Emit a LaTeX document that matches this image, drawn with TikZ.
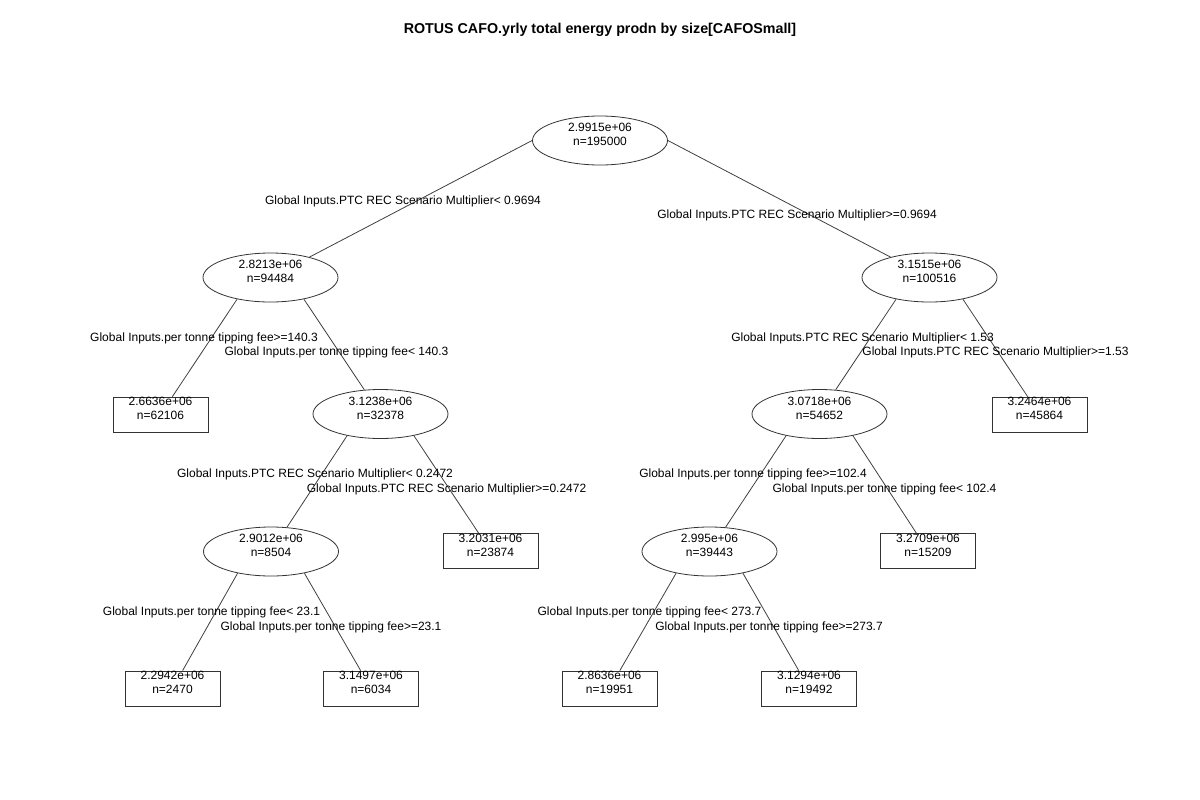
\documentclass[tikz,border=0pt]{standalone}
\usepackage{fontspec}
\setmainfont{Liberation Sans}
\usetikzlibrary{shapes.geometric}
\tikzset{
  inode/.style={ellipse, draw=black!80, line width=0.6pt, inner sep=0pt, minimum width=101.25pt, minimum height=36.75pt},
  leaf/.style={rectangle, draw=black!80, line width=0.6pt, inner sep=0pt, minimum width=71.25pt, minimum height=26.25pt},
  txt/.style={align=center, font=\fontsize{9pt}{10.5pt}\selectfont, inner sep=0pt, yshift=4.5pt},
  cond/.style={font=\fontsize{9pt}{10.5pt}\selectfont, inner sep=0pt},
  edge/.style={draw=black!75, line width=0.6pt}
}
\begin{document}
\begin{tikzpicture}[x=0.75pt, y=-0.75pt]
\useasboundingbox[fill=white] (0,0) rectangle (1200,800);
\node[font=\bfseries\fontsize{10.7pt}{12pt}\selectfont] (title) at (600,30) {ROTUS CAFO.yrly total energy prodn by size[CAFOSmall]};

% shapes
\node[inode] (root) at (600,140.5) {};
\node[inode] (n1) at (270.5,277.5) {};
\node[inode] (n2) at (929.5,277.5) {};
\node[leaf]  (l1) at (160.5,414.5) {};
\node[inode] (n3) at (380.5,414) {};
\node[inode] (n4) at (819.5,414) {};
\node[leaf]  (l2) at (1039.5,414.5) {};
\node[inode] (n5) at (271,551.5) {};
\node[leaf]  (l3) at (490.5,551) {};
\node[inode] (n6) at (709.5,551.5) {};
\node[leaf]  (l4) at (928,551) {};
\node[leaf]  (l5) at (172.5,688.5) {};
\node[leaf]  (l6) at (371,688.5) {};
\node[leaf]  (l7) at (609.5,688.5) {};
\node[leaf]  (l8) at (809,688.5) {};

% texts
\node[txt] (troot) at (root) {2.9915e+06\\n=195000};
\node[txt] (tn1) at (n1) {2.8213e+06\\n=94484};
\node[txt] (tn2) at (n2) {3.1515e+06\\n=100516};
\node[txt] (tl1) at (l1) {2.6636e+06\\n=62106};
\node[txt] (tn3) at (n3) {3.1238e+06\\n=32378};
\node[txt] (tn4) at (n4) {3.0718e+06\\n=54652};
\node[txt] (tl2) at (l2) {3.2464e+06\\n=45864};
\node[txt] (tn5) at (n5) {2.9012e+06\\n=8504};
\node[txt] (tl3) at (l3) {3.2031e+06\\n=23874};
\node[txt] (tn6) at (n6) {2.995e+06\\n=39443};
\node[txt] (tl4) at (l4) {3.2709e+06\\n=15209};
\node[txt] (tl5) at (l5) {2.2942e+06\\n=2470};
\node[txt] (tl6) at (l6) {3.1497e+06\\n=6034};
\node[txt] (tl7) at (l7) {2.8636e+06\\n=19951};
\node[txt] (tl8) at (l8) {3.1294e+06\\n=19492};

% edges
\draw[edge] (root.west) -- (n1);
\draw[edge] (root.east) -- (n2);
\draw[edge] (n1.213) -- (l1);
\draw[edge] (n1.327) -- (n3);
\draw[edge] (n2.213) -- (n4);
\draw[edge] (n2.327) -- (l2);
\draw[edge] (n3.213) -- (n5);
\draw[edge] (n3.327) -- (l3);
\draw[edge] (n4.213) -- (n6);
\draw[edge] (n4.327) -- (l4);
\draw[edge] (n5.213) -- (l5);
\draw[edge] (n5.327) -- (l6);
\draw[edge] (n6.213) -- (l7);
\draw[edge] (n6.327) -- (l8);

% split labels
\node[cond] (c1) at (403,201) {Global Inputs.PTC REC Scenario Multiplier< 0.9694};
\node[cond] (c2) at (797,215) {Global Inputs.PTC REC Scenario Multiplier>=0.9694};
\node[cond] (c3) at (204,338) {Global Inputs.per tonne tipping fee>=140.3};
\node[cond] (c4) at (336.5,352.5) {Global Inputs.per tonne tipping fee< 140.3};
\node[cond] (c5) at (862.5,338) {Global Inputs.PTC REC Scenario Multiplier< 1.53};
\node[cond] (c6) at (995.5,352.5) {Global Inputs.PTC REC Scenario Multiplier>=1.53};
\node[cond] (c7) at (315,474.5) {Global Inputs.PTC REC Scenario Multiplier< 0.2472};
\node[cond] (c8) at (446.5,489.5) {Global Inputs.PTC REC Scenario Multiplier>=0.2472};
\node[cond] (c9) at (753,474.5) {Global Inputs.per tonne tipping fee>=102.4};
\node[cond] (c10) at (884.5,489.5) {Global Inputs.per tonne tipping fee< 102.4};
\node[cond] (c11) at (211.5,612) {Global Inputs.per tonne tipping fee< 23.1};
\node[cond] (c12) at (331,627) {Global Inputs.per tonne tipping fee>=23.1};
\node[cond] (c13) at (649.5,612) {Global Inputs.per tonne tipping fee< 273.7};
\node[cond] (c14) at (769,627) {Global Inputs.per tonne tipping fee>=273.7};
\end{tikzpicture}
\end{document}
